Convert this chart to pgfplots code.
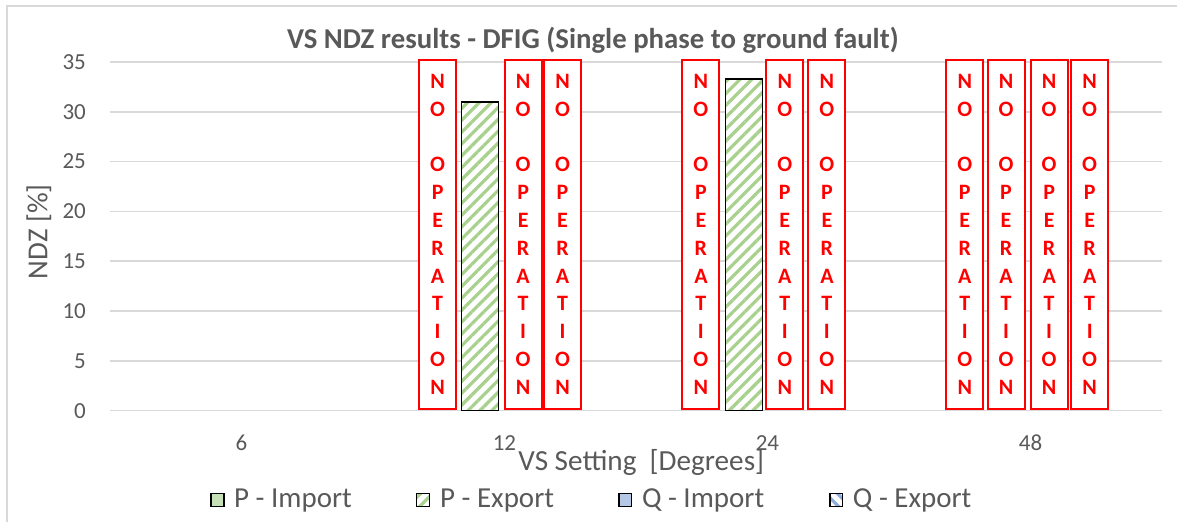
\documentclass[border=0pt]{standalone}
\usepackage{fontspec}
\setmainfont{Carlito}
\usepackage{pgfplots}
\pgfplotsset{compat=1.18}
\usetikzlibrary{patterns.meta}
\definecolor{gridc}{HTML}{D9D9D9}
\definecolor{txt}{HTML}{595959}
\definecolor{pgreen}{HTML}{C5E0B4}
\definecolor{pstripe}{HTML}{A9D18E}
\definecolor{qblue}{HTML}{B4C7E7}
\definecolor{qstripe}{HTML}{8FAADC}
\pgfplotsset{
  mylegend/.style={legend image code/.code={\draw[##1,line width=0.8pt] (0pt,-3.2pt) rectangle (6.4pt,3.2pt); \path (9.4pt,0pt);}},
}
\tikzset{noop/.style={draw=red, line width=1pt, fill=white, text=red,
  font=\bfseries\fontsize{11}{13.9}\selectfont, minimum width=18.5pt,
  minimum height=174.5pt, inner sep=0pt, align=center}}
\newcommand{\noop}[1]{\node[noop] at (axis cs:#1,17.7) {N\\O\\[13.9pt]O\\P\\E\\R\\A\\T\\I\\O\\N};}
\begin{document}
\begin{tikzpicture}
\begin{axis}[
  name=ax,
  scale only axis,
  width=526.5pt, height=174.5pt,
  xmin=-0.5, xmax=3.5, ymin=0, ymax=35,
  xtick={0,1,2,3}, xticklabels={6,12,24,48},
  ytick={0,5,...,35},
  major tick length=0pt,
  axis line style={draw=none},
  ymajorgrids, grid style={gridc, line width=0.75pt},
  clip=false,
  /pgf/number format/assume math mode=true,
  ticklabel style={font=\fontsize{11.5}{13}\selectfont, text=txt},
  yticklabel style={anchor=east, xshift=-8.5pt},
  xticklabel style={anchor=base, yshift=-20pt},
  legend style={draw=none, fill=none, legend columns=4,
    font=\fontsize{14.5}{16}\selectfont, text=txt,
    at={(0.459,-0.256)}, anchor=center,
    /tikz/every even column/.append style={column sep=30pt}},
  legend cell align=left,
]
\addlegendimage{mylegend, draw=black, fill=pgreen}
\addlegendentry{P - Import}
\addplot[ybar, bar width=0.1406, bar shift=0pt, draw=black, line width=0.75pt,
  fill=white, postaction={pattern={Lines[angle=45,distance=4.2pt,line width=1.6pt]}, pattern color=pstripe},
  mylegend] coordinates {(0.907,31.0) (1.910,33.3)};
\addlegendentry{P - Export}
\addlegendimage{mylegend, draw=black, fill=qblue}
\addlegendentry{Q - Import}
\addlegendimage{mylegend, draw=black, fill=white, postaction={pattern={Lines[angle=-45,distance=4.2pt,line width=1.6pt]}, pattern color=qstripe}}
\addlegendentry{Q - Export}
\noop{0.746}\noop{1.071}\noop{1.221}
\noop{1.747}\noop{2.066}\noop{2.226}
\noop{2.750}\noop{2.907}\noop{3.071}\noop{3.225}
\node[anchor=base, font=\bfseries\fontsize{14.4}{16}\selectfont, text=txt] at (axis description cs:0.459,1.039) {VS NDZ results - DFIG (Single phase to ground fault)};
\node[anchor=base, font=\fontsize{14.6}{16}\selectfont, text=txt] at ([yshift=-30pt]axis description cs:0.505,0) {VS Setting\ \ [Degrees]};
\node[rotate=90, anchor=center, font=\fontsize{14.5}{16}\selectfont, text=txt] at ([xshift=-35.5pt]axis description cs:0,0.513) {NDZ [\%]};
\end{axis}
\draw[gridc, line width=1pt] ([shift={(-51.5pt,-55.5pt)}]ax.south west) |- ([shift={(534pt,202.5pt)}]ax.south west);
\path ([shift={(-55pt,-55.5pt)}]ax.south west) rectangle ([shift={(534pt,205.5pt)}]ax.south west);
\end{tikzpicture}
\end{document}
